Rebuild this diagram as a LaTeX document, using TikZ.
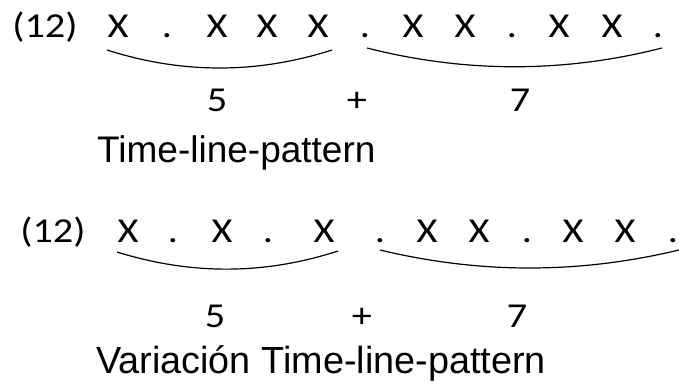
\documentclass[tikz,border=0pt]{standalone}
\usepackage{fontspec}
\newfontfamily\calfont[FakeStretch=1.15]{Carlito}
\newfontfamily\arialfont{Liberation Sans}
\tikzset{
  sym/.style={font=\calfont\fontsize{35}{40}\selectfont, anchor=base, inner sep=0pt},
  lab/.style={font=\arialfont\fontsize{37}{44}\selectfont, anchor=base west, inner sep=0pt},
  labb/.style={font=\arialfont\fontsize{37.8}{44}\selectfont, anchor=base west, inner sep=0pt},
  bracecurve/.style={draw=black, line width=1.2pt}
}
\begin{document}
\begin{tikzpicture}[x=1pt,y=-1pt]
\useasboundingbox (0,0) rectangle (679,385);
% Row 1
\node[sym] (n1) at (45,38) {(12)};
\node[sym] (a1) at (118,38) {X};
\node[sym] (a2) at (167,38) {.};
\node[sym] (a3) at (217,38) {X};
\node[sym] (a4) at (267,38) {X};
\node[sym] (a5) at (318,38) {X};
\node[sym] (a6) at (365,38) {.};
\node[sym] (a7) at (413,38) {X};
\node[sym] (a8) at (465,38) {X};
\node[sym] (a9) at (512,38) {.};
\node[sym] (a10) at (559,38) {X};
\node[sym] (a11) at (612,38) {X};
\node[sym] (a12) at (658,38) {.};
\coordinate (b1s) at (107,50);
\coordinate (b1e) at (332,50);
\coordinate (b2s) at (367,48);
\coordinate (b2e) at (662,48);
\draw[bracecurve] (b1s) .. controls (182,74) and (257,74) .. (b1e);
\draw[bracecurve] (b2s) .. controls (465,73) and (564,73) .. (b2e);
\node[sym] (f1) at (217,112) {5};
\node[sym] (p1) at (357,112) {+};
\node[sym] (s1) at (520,112) {7};
\node[lab] (t1) at (97,162) {Time-line-pattern};
% Row 2
\node[sym] (n2) at (53,242) {(12)};
\node[sym] (c1) at (128,242) {X};
\node[sym] (c2) at (173,242) {.};
\node[sym] (c3) at (222,242) {X};
\node[sym] (c4) at (268,242) {.};
\node[sym] (c5) at (324,242) {X};
\node[sym] (c6) at (380,242) {.};
\node[sym] (c7) at (427,242) {X};
\node[sym] (c8) at (479,242) {X};
\node[sym] (c9) at (527,242) {.};
\node[sym] (c10) at (573,242) {X};
\node[sym] (c11) at (625,242) {X};
\node[sym] (c12) at (673,242) {.};
\coordinate (d1s) at (117,252);
\coordinate (d1e) at (338,251);
\coordinate (d2s) at (380,250);
\coordinate (d2e) at (679,250);
\draw[bracecurve] (d1s) .. controls (191,275) and (264,275) .. (d1e);
\draw[bracecurve] (d2s) .. controls (480,274) and (579,274) .. (d2e);
\node[sym] (f2) at (215,327) {5};
\node[sym] (p2) at (362,327) {+};
\node[sym] (s2) at (517,327) {7};
\node[labb] (t2) at (96,373) {Variación Time-line-pattern};
\end{tikzpicture}
\end{document}
